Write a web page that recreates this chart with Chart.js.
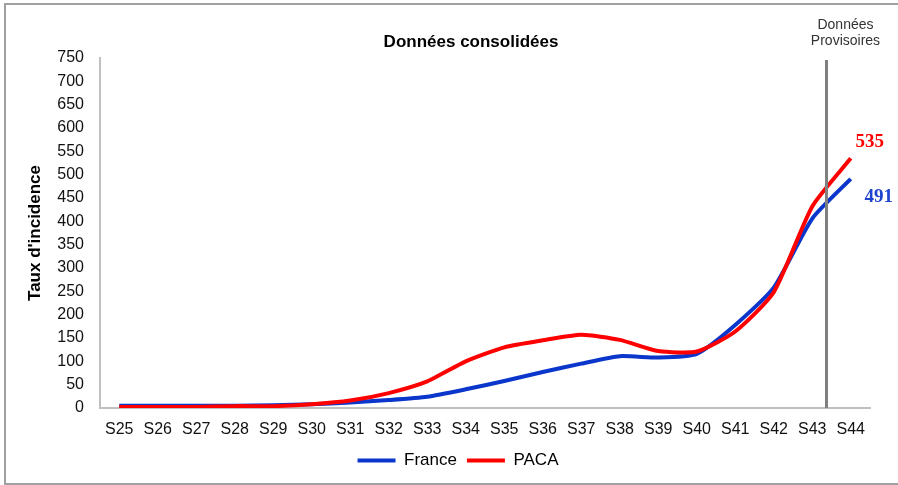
<!DOCTYPE html>
<html>
<head>
<meta charset="utf-8">
<script src="https://cdn.jsdelivr.net/npm/chart.js@4"></script>
<style>
  html, body { margin: 0; padding: 0; background: #fff; }
  #wrap { width: 898px; height: 485px; }
</style>
</head>
<body>
<div id="wrap"><canvas id="chart" width="898" height="485"></canvas></div>
<script>
// semaines
const weeks = ['S25', 'S26', 'S27', 'S28', 'S29', 'S30', 'S31', 'S32', 'S33', 'S34',
  'S35', 'S36', 'S37', 'S38', 'S39', 'S40', 'S41', 'S42', 'S43', 'S44'];

// taux d'incidence
const franceValues = [5, 5, 5, 5, 6, 8, 12, 17, 24, 40, 58, 77, 95, 111, 108, 116, 178, 258, 406, 491];
const pacaValues = [2, 2, 2, 4, 4, 8, 16, 32, 57, 100, 130, 145, 157, 146, 122, 121, 164, 248, 432, 535];

const yTicks = [0, 750, 50]; // min, max, pas
const provisoireAt = 18.37;  // position de la barre "Données provisoires" sur l'axe des semaines

const FONT = '"Liberation Sans", Arial, sans-serif';
const BLUE = '#0a36cc';
const RED = '#ff0000';

// textes et repères ajoutés par-dessus le graphique
const overlayPlugin = {
  id: 'overlay',
  beforeDraw(chart) {
    const ctx = chart.ctx;
    ctx.save();
    ctx.strokeStyle = '#a0a0a0';
    ctx.lineWidth = 2;
    ctx.beginPath();
    ctx.moveTo(5, 485);
    ctx.lineTo(5, 4);
    ctx.lineTo(898, 4);
    ctx.moveTo(5, 484);
    ctx.lineTo(898, 484);
    ctx.stroke();
    ctx.restore();
  },
  afterDatasetsDraw(chart) {
    const ctx = chart.ctx;
    const area = chart.chartArea;
    const x = chart.scales.x;

    ctx.save();
    // barre verticale
    const lx = x.getPixelForValue(provisoireAt);
    ctx.strokeStyle = '#808080';
    ctx.lineWidth = 3;
    ctx.beginPath();
    ctx.moveTo(lx, area.top + 2);
    ctx.lineTo(lx, area.bottom);
    ctx.stroke();

    ctx.fillStyle = '#333';
    ctx.font = '14px ' + FONT;
    ctx.textAlign = 'center';
    ctx.textBaseline = 'middle';
    ctx.fillText('Données', lx + 19, 25);
    ctx.fillText('Provisoires', lx + 19, 41);

    // titre
    ctx.fillStyle = '#000';
    ctx.font = 'bold 17px ' + FONT;
    ctx.fillText('Données consolidées', (area.left + area.right) / 2 - 14, 42);

    // titre de l'axe Y
    ctx.save();
    ctx.translate(35, (area.top + area.bottom) / 2);
    ctx.rotate(-Math.PI / 2);
    ctx.font = 'bold 17px ' + FONT;
    ctx.fillText("Taux d'incidence", 0, 0);
    ctx.restore();

    // dernières valeurs
    const last = weeks.length - 1;
    const pFr = chart.getDatasetMeta(0).data[last];
    const pPaca = chart.getDatasetMeta(1).data[last];
    ctx.font = 'bold 19px "Liberation Serif", "DejaVu Serif", serif';
    ctx.fillStyle = RED;
    ctx.fillText(String(pacaValues[last]), pPaca.x + 19, pPaca.y - 16);
    ctx.fillStyle = '#1d43cf';
    ctx.fillText(String(franceValues[last]), pFr.x + 28, pFr.y + 18);
    ctx.restore();
  }
};

new Chart(document.getElementById('chart'), {
  type: 'line',
  data: {
    labels: weeks,
    datasets: [
      {
        label: 'France',
        data: franceValues,
        borderColor: BLUE,
        backgroundColor: BLUE,
        borderWidth: 4,
        pointRadius: 0,
        tension: 0.2,
        order: 1
      },
      {
        label: 'PACA',
        data: pacaValues,
        borderColor: RED,
        backgroundColor: RED,
        borderWidth: 4,
        pointRadius: 0,
        tension: 0.2,
        order: 0
      }
    ]
  },
  options: {
    responsive: false,
    animation: false,
    layout: {
      padding: { left: 46, right: 28, top: 58, bottom: 6 }
    },
    plugins: {
      legend: {
        position: 'bottom',
        labels: {
          usePointStyle: true,
          pointStyle: 'line',
          pointStyleWidth: 38,
          padding: 10,
          color: '#000',
          font: { family: FONT, size: 17 },
          sort: (a, b) => a.datasetIndex - b.datasetIndex
        }
      },
      tooltip: { enabled: false },
      title: { display: false }
    },
    scales: {
      x: {
        offset: true,
        grid: { display: false, drawTicks: false },
        border: { display: true, color: '#c0c0c0', width: 2 },
        ticks: {
          color: '#111',
          padding: 12,
          maxRotation: 0,
          autoSkip: false,
          font: { family: FONT, size: 16 }
        },
        afterFit(scale) { scale.height = 34; }
      },
      y: {
        min: yTicks[0],
        max: yTicks[1],
        grid: { display: false, drawTicks: false },
        border: { display: true, color: '#c0c0c0', width: 2 },
        ticks: {
          stepSize: yTicks[2],
          color: '#111',
          padding: 16,
          font: { family: FONT, size: 16 }
        },
        afterFit(scale) { scale.width = 54; }
      }
    }
  },
  plugins: [overlayPlugin]
});
</script>
</body>
</html>
